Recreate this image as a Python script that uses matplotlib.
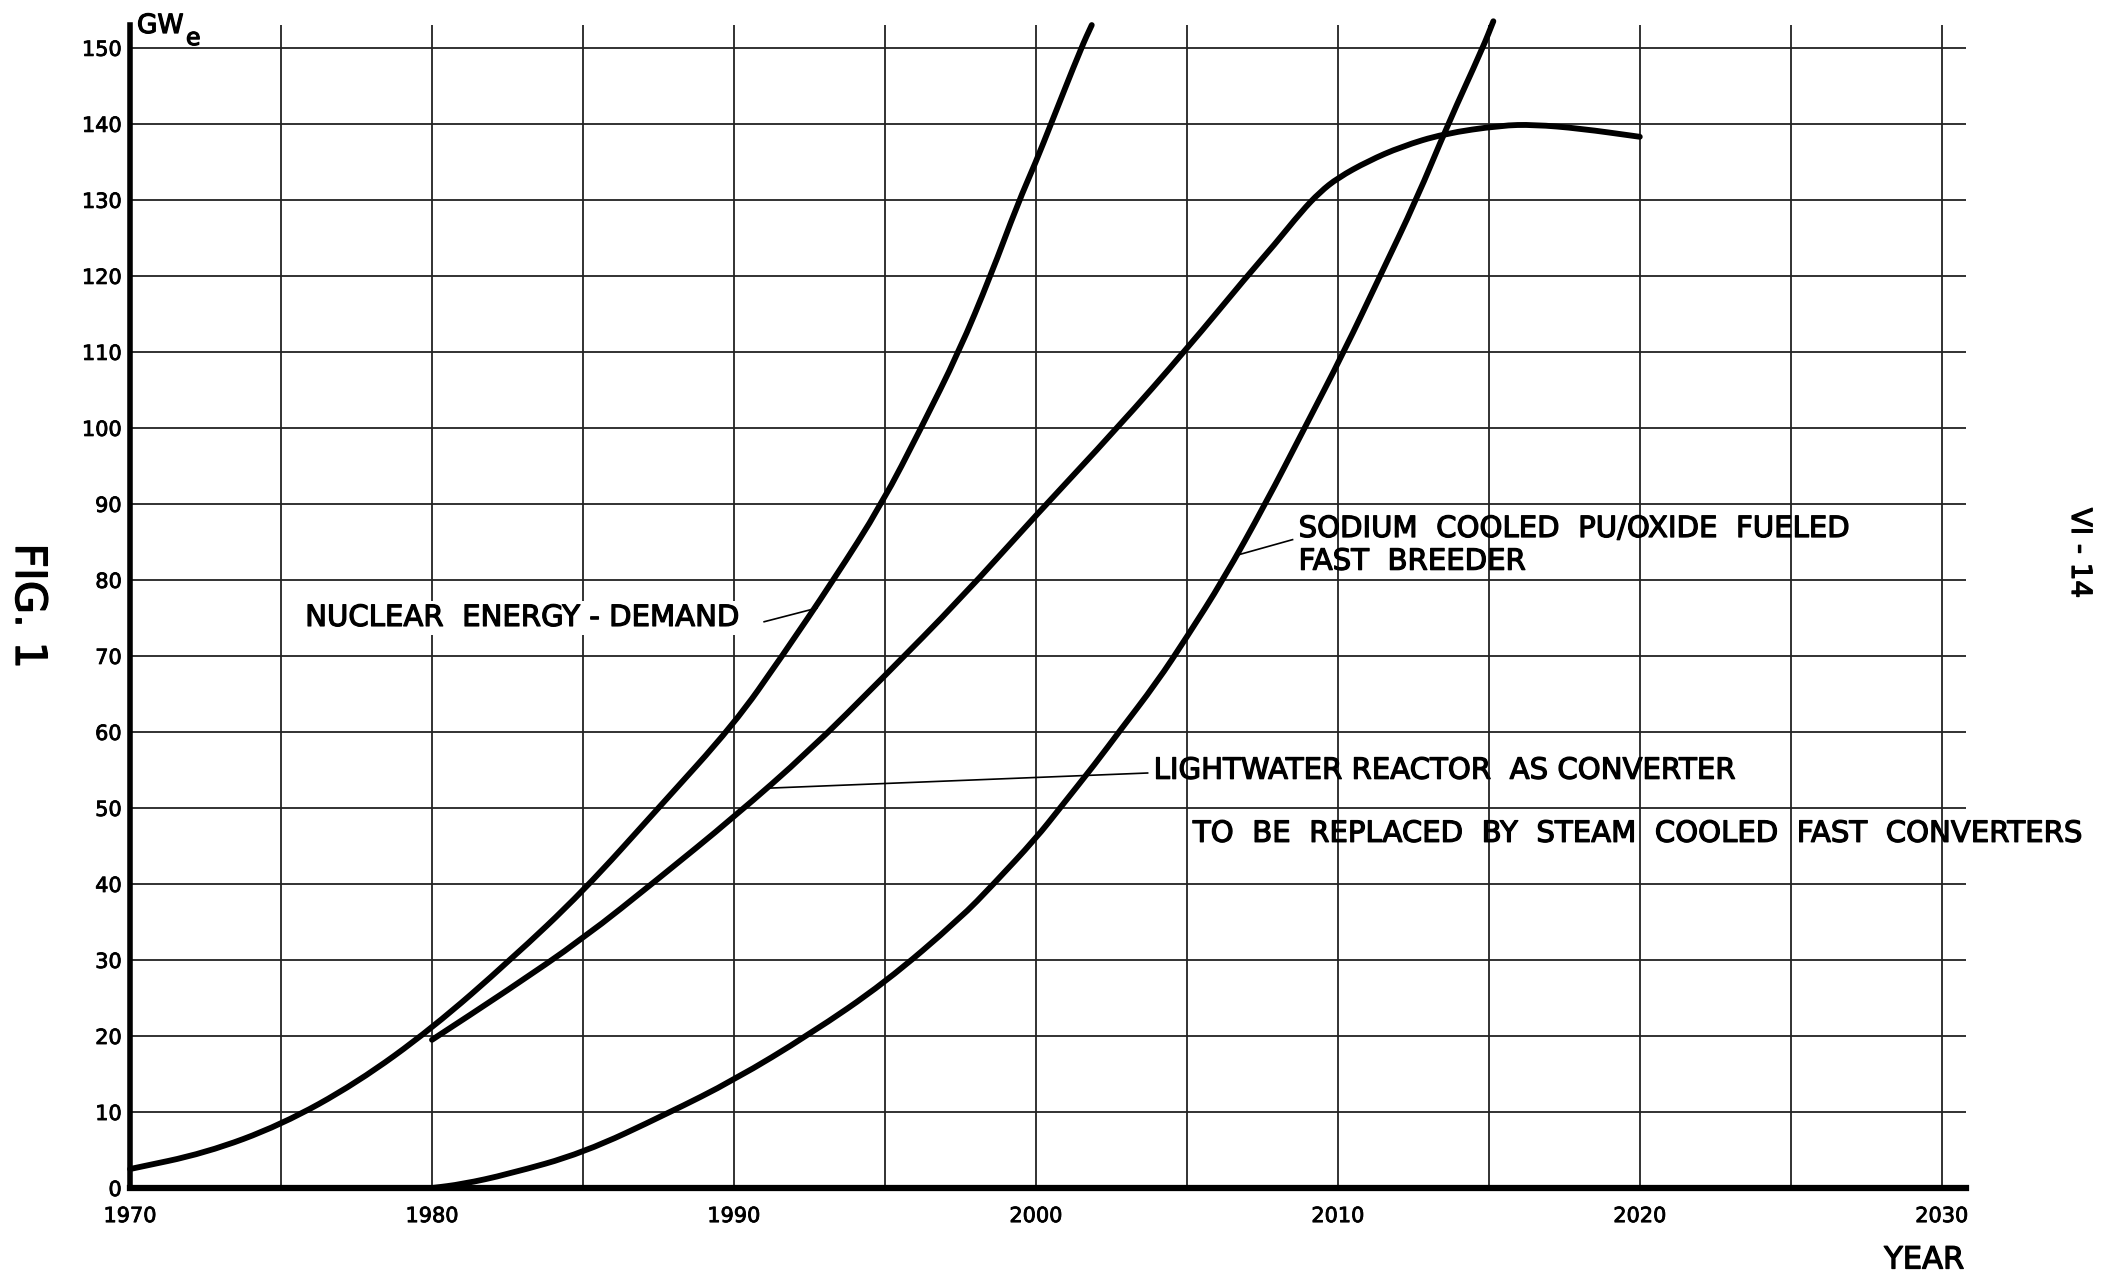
import matplotlib
matplotlib.use("Agg")
import matplotlib.pyplot as plt
import matplotlib.patheffects as pe
from matplotlib.path import Path
from matplotlib.patches import PathPatch

plt.rcParams['font.family'] = ['DejaVu Sans']

# nuclear energy demand (steepest curve)
demand_year = [1970, 1972.5, 1975, 1977.5, 1980, 1982.6, 1985, 1987.5, 1990, 1991.6,
               1993.3, 1994.9, 1996.2, 1997.45, 1998.5, 1999.4, 2000, 2000.5, 2001.5, 2001.85]
demand_gwe = [2.5, 4.6, 8.3, 13.8, 21, 30, 39, 50, 61, 70,
              80, 90, 100, 110, 120, 129.5, 135, 140, 150, 153]

# lightwater reactor as converter
lwr_year = [1980, 1982.5, 1985, 1987.5, 1990, 1992.5, 1995, 1997.5, 2000, 2002.7,
            2005, 2007, 2007.9, 2008.8, 2009.4, 2010, 2011, 2012.1, 2013.5, 2015.4,
            2016.5, 2018, 2020]
lwr_gwe = [19.5, 26, 32.8, 40.7, 48.8, 57.5, 67.4, 77.5, 88.5, 100,
           110.4, 120, 124.1, 128.5, 131, 132.9, 135.1, 137, 138.7, 139.8,
           139.9, 139.4, 138.3]

# sodium cooled fast breeder
fbr_year = [1980, 1981, 1982.5, 1985, 1987.8, 1990, 1992.5, 1995, 1997.5, 1998.6,
            2000, 2000.8, 2002, 2002.75, 2004, 2005, 2006.2, 2007.6, 2008.9, 2010.2,
            2011.4, 2012.6, 2013.65, 2014.8, 2015.15]
fbr_gwe = [0, 0.5, 1.8, 4.6, 9.8, 14.2, 20.2, 27, 35.5, 40,
           46, 50, 56, 60, 66.5, 72.5, 80, 90, 100, 110,
           120, 130, 140, 150, 153.5]

x_major = [1970, 1980, 1990, 2000, 2010, 2020, 2030]
x_minor = [1975, 1985, 1995, 2005, 2015, 2025]
y_ticks = list(range(0, 151, 10))

bold = [pe.withStroke(linewidth=0.9, foreground='black')]


def smooth_curve(ax, xs, ys):
    # quadratic bezier through midpoints, the read points act as control points
    pts = list(zip(xs, ys))
    verts = [pts[0]]
    codes = [Path.MOVETO]
    mid = lambda a, b: ((a[0] + b[0]) / 2, (a[1] + b[1]) / 2)
    verts.append(mid(pts[0], pts[1]))
    codes.append(Path.LINETO)
    for i in range(1, len(pts) - 1):
        verts += [pts[i], mid(pts[i], pts[i + 1])]
        codes += [Path.CURVE3, Path.CURVE3]
    verts.append(pts[-1])
    codes.append(Path.LINETO)
    patch = PathPatch(Path(verts, codes), facecolor='none', edgecolor='black', lw=4.2,
                      capstyle='round', joinstyle='round', clip_on=False, zorder=3)
    ax.add_patch(patch)


fig = plt.figure(figsize=(21.01, 12.78), dpi=100)
ax = fig.add_axes([0.0619, 0.0704, 0.8738, 0.91])
ax.set_xlim(1970, 2030.8)
ax.set_ylim(0, 153.0)

ax.set_xticks(x_major)
ax.set_xticks(x_minor, minor=True)
ax.set_yticks(y_ticks)
ax.tick_params(axis='both', which='both', length=0)
ax.tick_params(axis='x', pad=13, labelsize=15)
ax.tick_params(axis='y', pad=6, labelsize=15)
for lab in ax.get_xticklabels() + ax.get_yticklabels():
    lab.set_path_effects([pe.withStroke(linewidth=0.6, foreground='black')])
ax.grid(True, which='both', color='#222222', lw=1.3)
ax.set_axisbelow(True)

for s in ['top', 'right']:
    ax.spines[s].set_visible(False)
ax.spines['left'].set_linewidth(4)
ax.spines['bottom'].set_linewidth(4.5)

smooth_curve(ax, demand_year, demand_gwe)
smooth_curve(ax, lwr_year, lwr_gwe)
smooth_curve(ax, fbr_year, fbr_gwe)

# leader lines
lead = dict(color='black', lw=1.2, zorder=3)
ax.plot([1991.0, 1992.75], [74.5, 76.3], **lead)
ax.plot([2008.5, 2006.7], [85.3, 83.3], **lead)
ax.plot([2003.7, 1991.1], [54.6, 52.6], **lead)

fs = 21
tkw = dict(fontsize=fs, va='center', ha='left', zorder=4, path_effects=bold)
ax.text(1975.8, 75, "NUCLEAR  ENERGY - DEMAND",
        bbox=dict(facecolor='white', edgecolor='none', pad=2), **tkw)
ax.text(2008.7, 86.7, "SODIUM  COOLED  PU/OXIDE  FUELED", **tkw)
ax.text(2008.7, 82.4, "FAST  BREEDER", **tkw)
ax.text(2003.9, 54.9, "LIGHTWATER REACTOR  AS CONVERTER", **tkw)
ax.text(2005.2, 46.6, "TO  BE  REPLACED  BY  STEAM  COOLED  FAST  CONVERTERS", **tkw)

# axis captions
fig.text(137 / 2101, 1 - 26 / 1278, "GW", fontsize=19, va='center', ha='left', path_effects=bold)
fig.text(186 / 2101, 1 - 38 / 1278, "e", fontsize=17, va='center', ha='left', path_effects=bold)
fig.text(1964 / 2101, 1 - 1260 / 1278, "YEAR", fontsize=22, va='center', ha='right', path_effects=bold)
fig.text(28 / 2101, 1 - 606 / 1278, "FIG. 1", fontsize=31, rotation=-90, va='center', ha='center',
         path_effects=bold)
fig.text(2080 / 2101, 1 - 553 / 1278, "VI - 14", fontsize=20, rotation=-90, va='center', ha='center',
         path_effects=bold)

fig.savefig("out.png", dpi=100, facecolor='white')
